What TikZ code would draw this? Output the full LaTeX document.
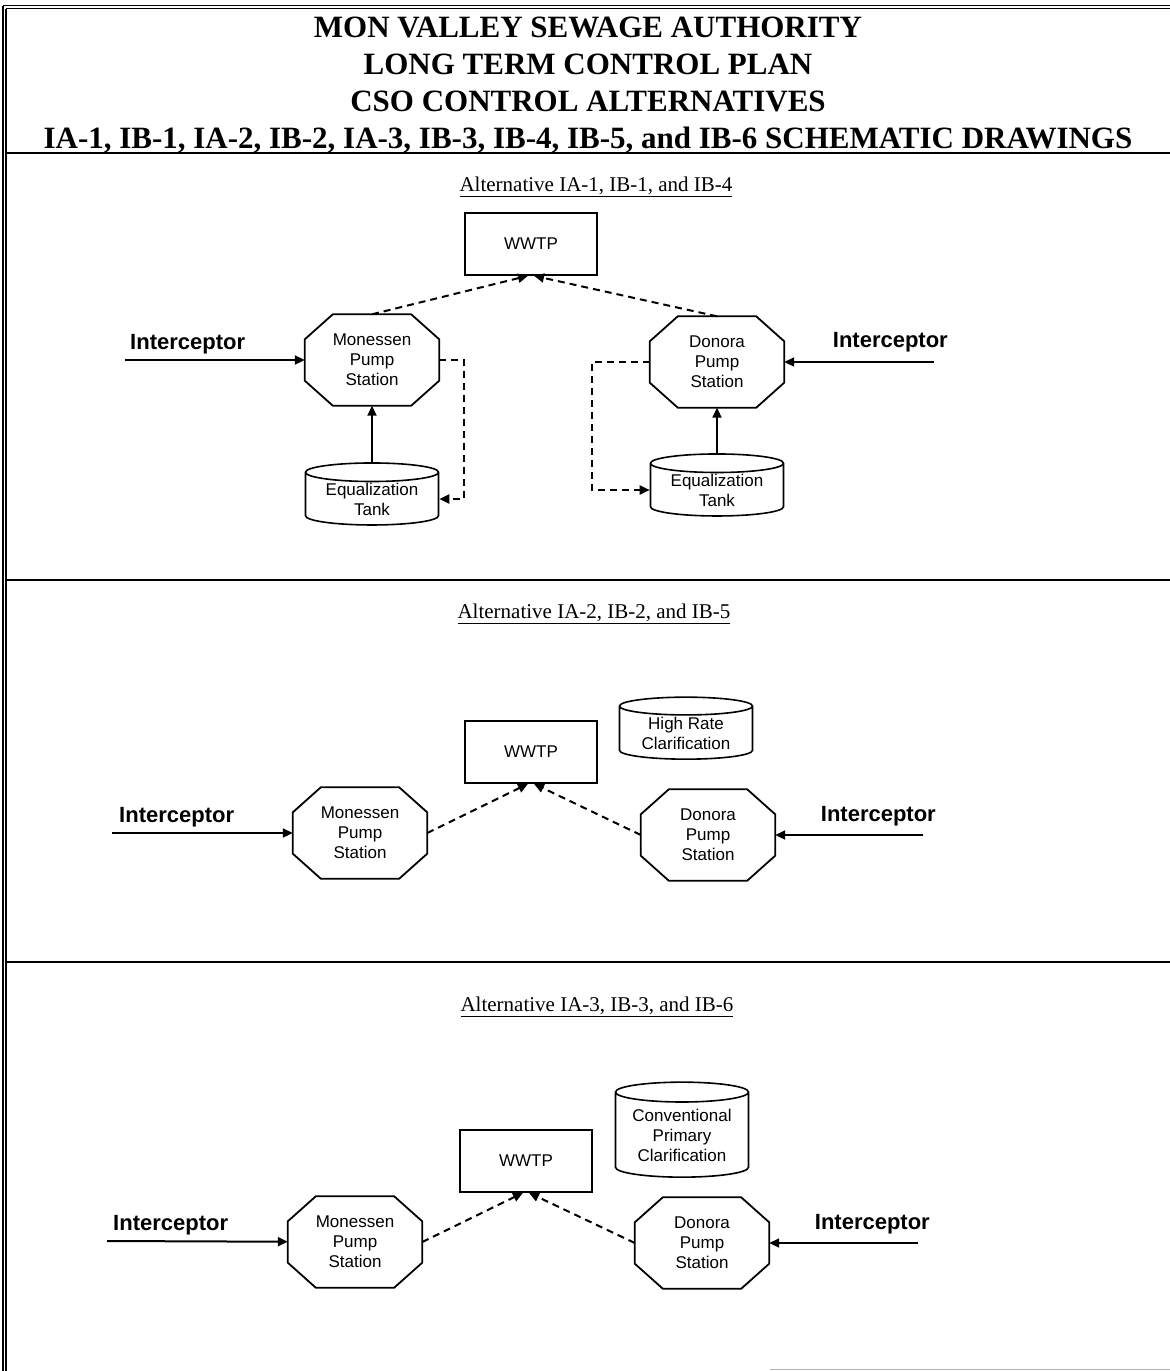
\documentclass[tikz,border=0pt]{standalone}
\usepackage{fontspec}
\setmainfont{Liberation Serif}
\setsansfont{Liberation Sans}
\usetikzlibrary{positioning, shapes.geometric, arrows.meta}

\tikzset{
  pump/.style={rectangle, minimum width=134pt, minimum height=91pt, inner sep=0pt,
    align=center, font=\sffamily\fontsize{17}{20}\selectfont,
    append after command={\pgfextra{\let\pumpnode=\tikzlastnode
      \draw[line width=1.8pt, line join=miter]
      ([xshift=28pt]\pumpnode.north west) -- ([xshift=-28pt]\pumpnode.north east)
      -- ([yshift=-25pt]\pumpnode.north east) -- ([yshift=25pt]\pumpnode.south east)
      -- ([xshift=-28pt]\pumpnode.south east) -- ([xshift=28pt]\pumpnode.south west)
      -- ([yshift=25pt]\pumpnode.south west) -- ([yshift=-25pt]\pumpnode.north west)
      -- cycle;}}},
  plant/.style={rectangle, draw, line width=1.6pt, minimum width=132pt, minimum height=62pt,
    font=\sffamily\fontsize{17}{20}\selectfont},
  tank/.style={cylinder, shape border rotate=90, aspect=0.2, draw, line width=1.6pt,
    minimum width=133pt, minimum height=62pt, inner sep=0pt,
    align=center, font=\sffamily\fontsize{17}{20}\selectfont},
  intext/.style={font=\sffamily\bfseries\fontsize{22}{26}\selectfont, inner sep=0pt},
  alt/.style={font=\fontsize{21}{24}\selectfont},
  flow/.style={->, line width=2pt},
  dashflow/.style={->, line width=2pt, dash pattern=on 7pt off 5pt},
  rule/.style={line width=2.5pt}
}

\begin{document}
\begin{tikzpicture}[x=1pt, y=-1pt, node distance=100pt, on grid, >={Triangle[length=10pt,width=9pt]}]
   \useasboundingbox (0,0) rectangle (1170,1371);
   % frame
   \draw[line width=1.3pt] (3,5.5) -- (1170,5.5) (3,5.5) -- (3,1371);
   \draw[line width=1.3pt] (6,8.5) -- (1170,8.5) (6,8.5) -- (6,1371);
   \draw[rule] (6,153) -- (1170,153);
   \draw[rule] (6,580) -- (1170,580);
   \draw[rule] (6,962) -- (1170,962);
   \draw[gray!60, line width=1pt] (770,1369) -- (1170,1369);

   \node[align=center, font=\bfseries\fontsize{31}{37}\selectfont] (head) at (588,85.5)
     {MON VALLEY SEWAGE AUTHORITY\\LONG TERM CONTROL PLAN\\CSO CONTROL ALTERNATIVES\\
      IA-1, IB-1, IA-2, IB-2, IA-3, IB-3, IB-4, IB-5, and IB-6 SCHEMATIC DRAWINGS};

   % alternative IA-1, IB-1, IB-4
   \node[alt] (alt1) at (596,187) {\underline{Alternative IA-1, IB-1, and IB-4}};
   \node[plant] (wwtp1) at (531,244) {WWTP};
   \node[pump] (mon1) [below left=116pt and 159pt of wwtp1] {Monessen\\Pump\\Station};
   \node[pump] (don1) [below right=118pt and 186pt of wwtp1] {Donora\\Pump\\Station};
   \node[tank] (tank1) [below=139pt of mon1] {Equalization\\Tank};
   \node[tank] (tank2) [below=128pt of don1] {Equalization\\Tank};
   \coordinate (in1) at (125,360);
   \coordinate (in2) at (934,362);
   \node[intext, anchor=base west] (lab1) at ([shift={(5,-11)}]in1) {Interceptor};
   \node[intext, anchor=base east] (lab2) at ([shift={(14,-15)}]in2) {Interceptor};

   \path[flow]
    (in1) edge (mon1)
    (in2) edge (don1)
    (tank1) edge (mon1)
    (tank2) edge (don1);
   \path[dashflow]
    (mon1.north) edge ([xshift=-3pt]wwtp1.south)
    (don1.north) edge ([xshift=3pt]wwtp1.south);
   \draw[dashflow] (mon1.east) -- ++(25,0) |- (tank1.east);
   \draw[dashflow] (don1.west) -- ++(-58,0) |- (tank2.west);

   % alternative IA-2, IB-2, IB-5
   \node[alt] (alt2) at (594,614) {\underline{Alternative IA-2, IB-2, and IB-5}};
   \node[plant] (wwtp2) at (531,752) {WWTP};
   \node[pump] (mon2) [below left=81pt and 171pt of wwtp2] {Monessen\\Pump\\Station};
   \node[pump] (don2) [below right=83pt and 177pt of wwtp2] {Donora\\Pump\\Station};
   \node[tank] (hrc) [above right=19pt and 155pt of wwtp2] {High Rate\\Clarification};
   \coordinate (in3) at (112,833);
   \coordinate (in4) at (923,835);
   \node[intext, anchor=base west] (lab3) at ([shift={(7,-11)}]in3) {Interceptor};
   \node[intext, anchor=base east] (lab4) at ([shift={(13,-14)}]in4) {Interceptor};

   \path[flow]
    (in3) edge (mon2)
    (in4) edge (don2);
   \path[dashflow]
    (mon2.east) edge ([xshift=-3pt]wwtp2.south)
    (don2.west) edge ([xshift=3pt]wwtp2.south);

   % alternative IA-3, IB-3, IB-6
   \node[alt] (alt3) at (597,1007) {\underline{Alternative IA-3, IB-3, and IB-6}};
   \node[plant] (wwtp3) at (526,1161) {WWTP};
   \node[pump] (mon3) [below left=81pt and 171pt of wwtp3] {Monessen\\Pump\\Station};
   \node[pump] (don3) [below right=82pt and 176pt of wwtp3] {Donora\\Pump\\Station};
   \node[tank, minimum height=95pt] (cpc) [above right=26pt and 156pt of wwtp3] {Conventional\\Primary\\Clarification};
   \coordinate (in5) at (107,1241);
   \coordinate (in6) at (918,1243);
   \node[intext, anchor=base west] (lab5) at ([shift={(6,-11)}]in5) {Interceptor};
   \node[intext, anchor=base east] (lab6) at ([shift={(12,-14)}]in6) {Interceptor};

   \path[flow]
    (in5) edge (mon3)
    (in6) edge (don3);
   \path[dashflow]
    (mon3.east) edge ([xshift=-3pt]wwtp3.south)
    (don3.west) edge ([xshift=3pt]wwtp3.south);
\end{tikzpicture}
\end{document}
